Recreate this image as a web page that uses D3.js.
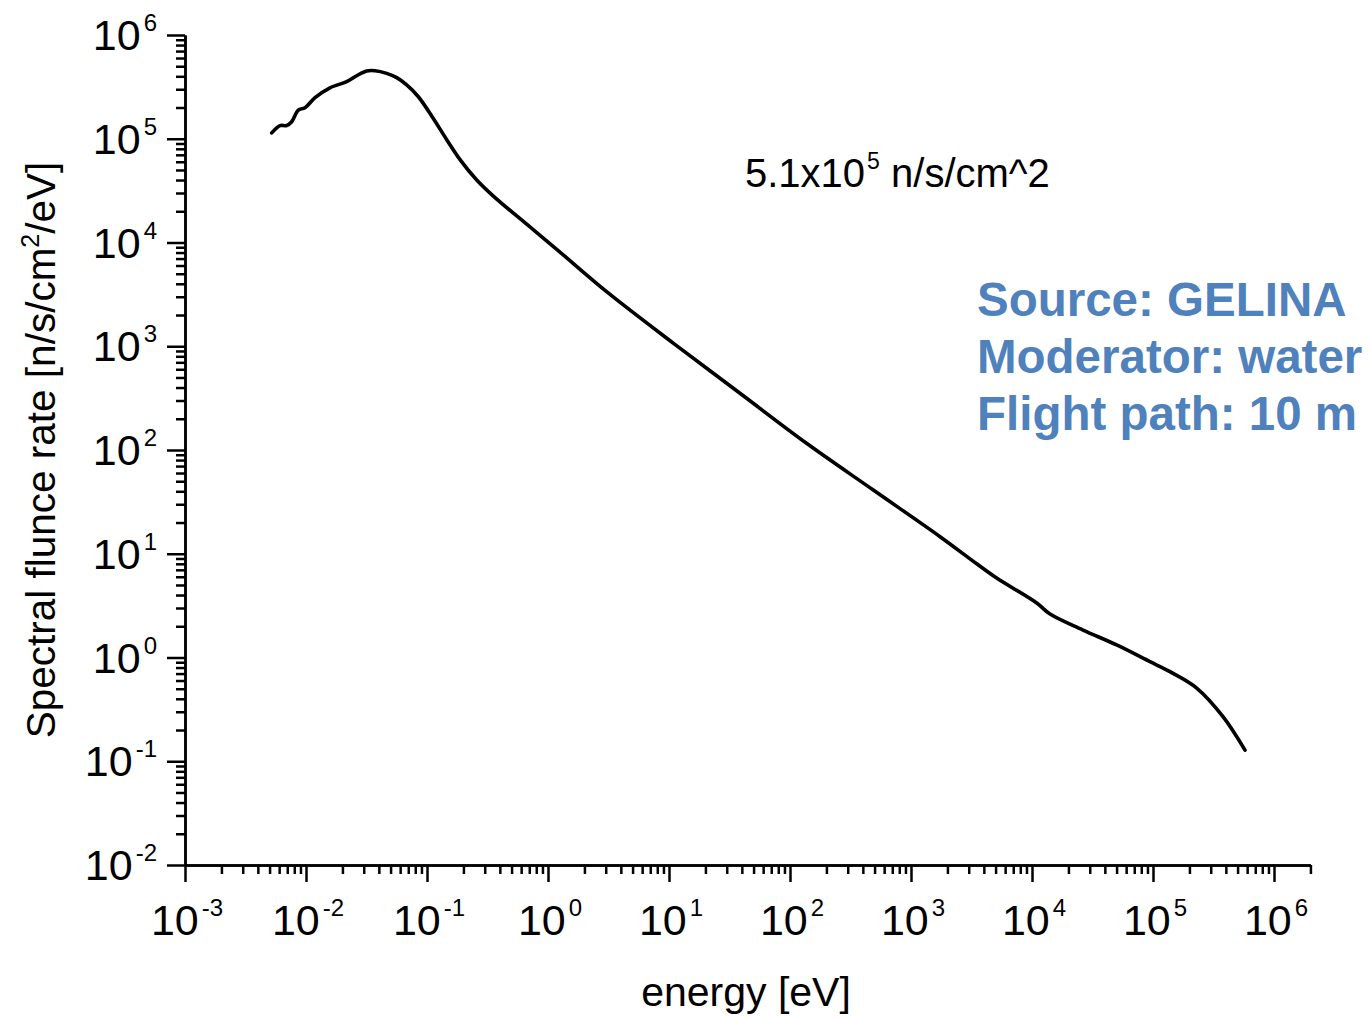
<!DOCTYPE html>
<html>
<head>
<meta charset="utf-8">
<script src="https://cdn.jsdelivr.net/npm/d3@7"></script>
<style>
  body { margin: 0; background: #fff; }
  text { font-family: "Liberation Sans", Arial, sans-serif; fill: #000; }
</style>
</head>
<body>
<div id="main"></div>
<script>
const ctx = {
    w: 1372,
    h: 1018
};

// energy (eV) and spectral fluence rate
const energy = [0.00521, 0.0061, 0.00692, 0.00761, 0.00864, 0.00981, 0.01187, 0.01578, 0.02168, 0.02624,
    0.03175, 0.03718, 0.04645, 0.05621, 0.06796, 0.0848, 0.1127, 0.1455, 0.1875, 0.2577,
    0.3533, 0.667, 1.18, 3.05, 10.9, 38.6, 137, 488, 1738, 3493,
    5105, 10940, 14090, 26390, 50100, 94400, 138000, 229500, 379000, 576000];
const flux = [1.14e5, 1.34e5, 1.34e5, 1.46e5, 1.89e5, 1.99e5, 2.49e5, 3.10e5, 3.55e5, 4.05e5,
    4.50e5, 4.53e5, 4.27e5, 3.88e5, 3.30e5, 2.54e5, 1.57e5, 0.98e5, 6.3e4, 4.0e4,
    2.8e4, 1.50e4, 8.6e3, 3.36e3, 1067, 352, 116, 41.1, 14.6, 8.0,
    5.83, 3.35, 2.62, 1.84, 1.32, 0.911, 0.730, 0.508, 0.269, 0.128];

// axis decades (exponents) used for labels
const xExponents = [-3, -2, -1, 0, 1, 2, 3, 4, 5, 6];
const yExponents = [-2, -1, 0, 1, 2, 3, 4, 5, 6];

const annotation = { base: "5.1x10", sup: "5", tail: " n/s/cm^2" };
const infoLines = ["Source: GELINA", "Moderator: water", "Flight path: 10 m"];

function createViz() {
    let svg = d3.select("#main").append("svg")
        .attr("width", ctx.w)
        .attr("height", ctx.h);

    let xScale = d3.scaleLog().domain([1e-3, 2e6]).range([185, 185 + 121 * Math.log10(2e9)]);
    let yScale = d3.scaleLog().domain([1e-2, 1e6]).range([865, 35]);

    let xMajor = xExponents.map((e) => Math.pow(10, e));
    let yMajor = yExponents.map((e) => Math.pow(10, e));
    let xMinor = xScale.ticks().filter((v) => !xMajor.some((m) => Math.abs(m - v) / m < 1e-9));
    let yMinor = yScale.ticks().filter((v) => !yMajor.some((m) => Math.abs(m - v) / m < 1e-9));

    // x axis: minor then major ticks
    let xG = svg.append("g").attr("transform", "translate(0,865)");
    xG.append("g").call(d3.axisBottom(xScale).tickValues(xMinor).tickFormat("").tickSize(9).tickSizeOuter(0));
    xG.append("g").call(d3.axisBottom(xScale).tickValues(xMajor).tickFormat("").tickSize(17).tickSizeOuter(0));

    // y axis
    let yG = svg.append("g").attr("transform", "translate(185,0)");
    yG.append("g").call(d3.axisLeft(yScale).tickValues(yMinor).tickFormat("").tickSize(9).tickSizeOuter(0));
    yG.append("g").call(d3.axisLeft(yScale).tickValues(yMajor).tickFormat("").tickSize(18).tickSizeOuter(0));

    svg.selectAll(".domain, .tick line")
        .attr("stroke", "#000")
        .attr("stroke-width", 2.5);

    // x tick labels 10^n
    let xl = svg.append("g").selectAll("text")
        .data(xExponents)
        .enter()
        .append("text")
        .attr("x", (d) => xScale(Math.pow(10, d)) + 2)
        .attr("y", 935)
        .attr("text-anchor", "middle")
        .style("font-size", "43px");
    xl.append("tspan").text("10");
    xl.append("tspan").attr("dx", 3).attr("dy", -19).style("font-size", "24px").text((d) => d);

    // y tick labels 10^n
    let yl = svg.append("g").selectAll("text")
        .data(yExponents)
        .enter()
        .append("text")
        .attr("x", 157)
        .attr("y", (d) => yScale(Math.pow(10, d)) + 15)
        .attr("text-anchor", "end")
        .style("font-size", "43px");
    yl.append("tspan").text("10");
    yl.append("tspan").attr("dx", 3).attr("dy", -19).style("font-size", "24px").text((d) => d);

    // axis titles
    svg.append("text")
        .attr("x", 746)
        .attr("y", 1006)
        .attr("text-anchor", "middle")
        .style("font-size", "41px")
        .text("energy [eV]");

    let yt = svg.append("text")
        .attr("transform", "translate(55,450) rotate(-90)")
        .attr("text-anchor", "middle")
        .style("font-size", "40.5px");
    yt.append("tspan").text("Spectral flunce rate [n/s/cm");
    yt.append("tspan").attr("dy", -16).style("font-size", "25px").text("2");
    yt.append("tspan").attr("dy", 16).text("/eV]");

    // spectrum curve
    let pts = energy.map((e, i) => [e, flux[i]]);
    svg.append("path")
        .datum(pts)
        .attr("fill", "none")
        .attr("stroke", "#000")
        .attr("stroke-width", 3.6)
        .attr("stroke-linejoin", "round")
        .attr("stroke-linecap", "round")
        .attr("d", d3.line()
            .curve(d3.curveCatmullRom.alpha(0.5))
            .x((d) => xScale(d[0]))
            .y((d) => yScale(d[1])));

    // total fluence rate annotation
    let an = svg.append("text")
        .attr("x", 745)
        .attr("y", 187)
        .style("font-size", "40px");
    an.append("tspan").text(annotation.base);
    an.append("tspan").attr("dx", 2).attr("dy", -18).style("font-size", "23px").text(annotation.sup);
    an.append("tspan").attr("dy", 18).text(annotation.tail);

    // facility info, blue
    svg.append("g").selectAll("text")
        .data(infoLines)
        .enter()
        .append("text")
        .attr("x", 977)
        .attr("y", (d, i) => 316 + i * 57)
        .style("font-size", "47.5px")
        .style("font-weight", "bold")
        .style("fill", "#4F81BD")
        .text((d) => d);
}

createViz();
</script>
</body>
</html>
